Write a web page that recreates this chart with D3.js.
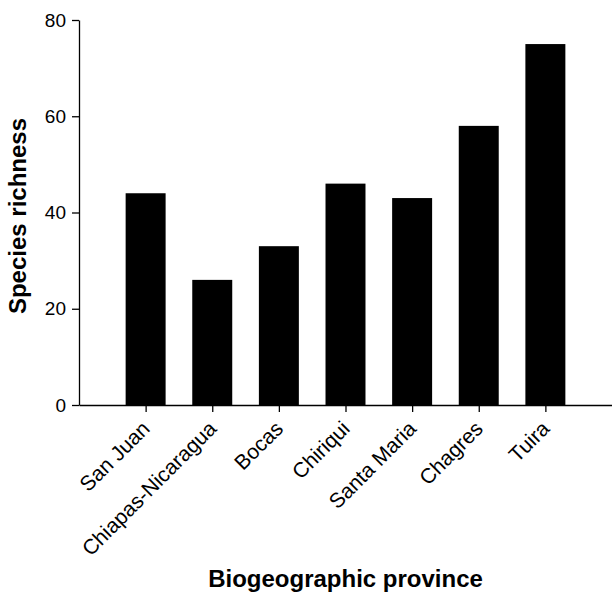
<!DOCTYPE html>
<html>
<head>
<meta charset="utf-8">
<script src="https://d3js.org/d3.v7.min.js"></script>
<style>
  body { margin: 0; background: #fff; }
  svg { display: block; font-family: "Liberation Sans", Arial, sans-serif; }
</style>
</head>
<body>
<div id="chart"></div>
<script>
// data
const provinces = ["San Juan", "Chiapas-Nicaragua", "Bocas", "Chiriqui", "Santa Maria", "Chagres", "Tuira"];
const richness = [44, 26, 33, 46, 43, 58, 75];
const yTicks = [0, 20, 40, 60, 80];

const data = provinces.map((p, i) => ({ key: p, value: richness[i] }));

const W = 612, H = 596;
const margin = { top: 20, right: 0, bottom: 191, left: 79 },
      width = W - margin.left - margin.right,
      height = H - margin.top - margin.bottom;

const svg = d3.select("#chart")
    .append("svg")
    .attr("width", W)
    .attr("height", H)
    .append("g")
    .attr("transform", `translate(${margin.left},${margin.top})`);

// scales
const x = d3.scalePoint()
    .domain(provinces)
    .range([0, width])
    .padding(1);

const barW = x.step() * 0.6;

const y = d3.scaleLinear()
    .domain([0, 80])
    .range([height, 0]);

// bars
svg.selectAll(".bar")
    .data(data)
    .enter()
    .append("rect")
    .attr("class", "bar")
    .attr("x", d => x(d.key) - barW / 2)
    .attr("width", barW)
    .attr("y", d => y(d.value))
    .attr("height", d => height - y(d.value))
    .attr("fill", "#000");

// axes
const yAxis = svg.append("g")
    .call(d3.axisLeft(y).tickValues(yTicks).tickSize(7).tickSizeOuter(0).tickPadding(6));

const xAxis = svg.append("g")
    .attr("transform", `translate(0, ${height})`)
    .call(d3.axisBottom(x).tickSize(7).tickSizeOuter(0));

[yAxis, xAxis].forEach(g => {
    g.select(".domain").attr("stroke", "#000").attr("stroke-width", 1.3);
    g.selectAll(".tick line").attr("stroke", "#000").attr("stroke-width", 1.3);
    g.selectAll("text")
        .attr("fill", "#000")
        .attr("font-family", "Liberation Sans, Arial, sans-serif");
});

yAxis.selectAll("text").attr("font-size", "19px");

xAxis.selectAll("text")
    .attr("font-size", "21px")
    .attr("text-anchor", "end")
    .attr("x", 0)
    .attr("y", 0)
    .attr("dy", 0)
    .attr("transform", "translate(5, 25) rotate(-45)");

// axis titles
svg.append("text")
    .attr("text-anchor", "middle")
    .attr("x", width / 2)
    .attr("y", height + 182)
    .attr("font-size", "24px")
    .attr("font-weight", "bold")
    .text("Biogeographic province");

svg.append("text")
    .attr("text-anchor", "middle")
    .attr("transform", "rotate(-90)")
    .attr("x", -196)
    .attr("y", -53)
    .attr("font-size", "24px")
    .attr("font-weight", "bold")
    .text("Species richness");
</script>
</body>
</html>
